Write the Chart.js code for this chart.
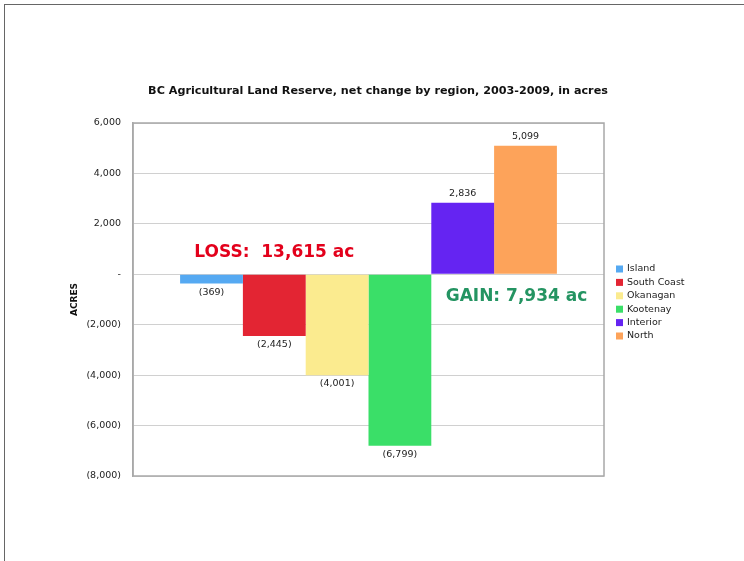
<!DOCTYPE html>
<html>
<head>
<meta charset="utf-8">
<script src="https://cdn.jsdelivr.net/npm/chart.js@4.4.1/dist/chart.umd.min.js"></script>
<style>
    html, body { margin: 0; padding: 0; background: #fff; }
    #wrap { position: relative; width: 744px; height: 561px; overflow: hidden; }
    #frame { position: absolute; left: 4px; top: 4px; width: 760px; height: 580px;
             border-left: 1.5px solid #666; border-top: 1.5px solid #666; pointer-events: none; }
    canvas { position: absolute; left: 0; top: 0; }
</style>
</head>
<body>
<div id="wrap">
    <canvas id="landChart" width="744" height="561"></canvas>
    <div id="frame"></div>
</div>
<script>
// Chart data
const regions = ['Island', 'South Coast', 'Okanagan', 'Kootenay', 'Interior', 'North'];
const netChange = [-369, -2445, -4001, -6799, 2836, 5099];
const regionColors = ['#55a9f2', '#e32533', '#fbeb8f', '#3adf68', '#6524f2', '#fda35a'];
const yTicks = [6000, 4000, 2000, 0, -2000, -4000, -6000, -8000];
const chartTitle = 'BC Agricultural Land Reserve, net change by region, 2003-2009, in acres';
const lossText = 'LOSS:  13,615 ac';
const gainText = 'GAIN: 7,934 ac';

const FONT = 'DejaVu Sans, Verdana, sans-serif';

function fmtAcres(v) {
    if (v === 0) return '-';
    const s = Math.abs(v).toLocaleString('en-US');
    return v < 0 ? '(' + s + ')' : s;
}

// value labels above / below each bar, plus the loss / gain notes
const valueLabels = {
    id: 'valueLabels',
    afterDatasetsDraw(chart) {
        const ctx = chart.ctx;
        ctx.save();
        ctx.font = '9.5px ' + FONT;
        ctx.fillStyle = '#222';
        ctx.textAlign = 'center';
        chart.data.datasets.forEach((ds, i) => {
            const bar = chart.getDatasetMeta(i).data[0];
            const v = ds.data[0];
            if (v >= 0) {
                ctx.textBaseline = 'bottom';
                ctx.fillText(fmtAcres(v), bar.x, bar.y - 4);
            } else {
                ctx.textBaseline = 'top';
                ctx.fillText(fmtAcres(v), bar.x, bar.y + 4);
            }
        });

        const y = chart.scales.y;
        ctx.font = 'bold 17px ' + FONT;
        ctx.textBaseline = 'middle';
        ctx.fillStyle = '#e3001b';
        ctx.fillText(lossText, chart.getDatasetMeta(1).data[0].x, y.getPixelForValue(850));
        ctx.fillStyle = '#249462';
        ctx.fillText(gainText, chart.getDatasetMeta(5).data[0].x - 9, y.getPixelForValue(-900));
        ctx.restore();
    }
};

// title and legend drawn by hand
const sideLegend = {
    id: 'sideLegend',
    afterDraw(chart) {
        const ctx = chart.ctx;
        const area = chart.chartArea;
        ctx.save();

        ctx.font = 'bold 11.2px ' + FONT;
        ctx.fillStyle = '#111';
        ctx.textAlign = 'center';
        ctx.textBaseline = 'middle';
        ctx.fillText(chartTitle, chart.width / 2 + 6, area.top - 32);

        const rowH = 13.4;
        const x = area.right + 12;
        let y = (area.top + area.bottom) / 2 + 3 - rowH * (regions.length - 1) / 2;
        ctx.font = '9.5px ' + FONT;
        ctx.textAlign = 'left';
        regions.forEach((name, i) => {
            ctx.fillStyle = regionColors[i];
            ctx.fillRect(x, y - 3.5, 7, 7);
            ctx.fillStyle = '#222';
            ctx.fillText(name, x + 11, y);
            y += rowH;
        });

        // plot frame
        ctx.strokeStyle = '#a8a8a8';
        ctx.lineWidth = 1.5;
        ctx.strokeRect(area.left, area.top, area.right - area.left, area.bottom - area.top);
        ctx.restore();
    }
};

new Chart(document.getElementById('landChart'), {
    type: 'bar',
    data: {
        labels: ['Net change'],
        datasets: regions.map((name, i) => ({
            label: name,
            data: [netChange[i]],
            backgroundColor: regionColors[i],
            borderWidth: 0,
            categoryPercentage: 0.8,
            barPercentage: 1.0
        }))
    },
    options: {
        responsive: false,
        animation: false,
        layout: { padding: { left: 0, right: 140, top: 123, bottom: 85 } },
        plugins: {
            legend: { display: false },
            tooltip: { enabled: false },
            title: { display: false }
        },
        scales: {
            x: { display: false },
            y: {
                min: -8000,
                max: 6000,
                afterBuildTicks: (scale) => { scale.ticks = yTicks.map(v => ({ value: v })); },
                afterFit: (scale) => { scale.width = 133; },
                grid: { color: '#d0d0d0', drawTicks: false },
                border: { display: true, color: '#a8a8a8', width: 1.5 },
                ticks: {
                    padding: 12,
                    color: '#222',
                    font: { family: FONT, size: 9.5 },
                    callback: (v) => fmtAcres(v)
                },
                title: {
                    display: true,
                    text: 'ACRES',
                    color: '#111',
                    font: { family: FONT, size: 9, weight: 'bold' },
                    padding: { top: 69 }
                }
            }
        }
    },
    plugins: [valueLabels, sideLegend]
});
</script>
</body>
</html>
